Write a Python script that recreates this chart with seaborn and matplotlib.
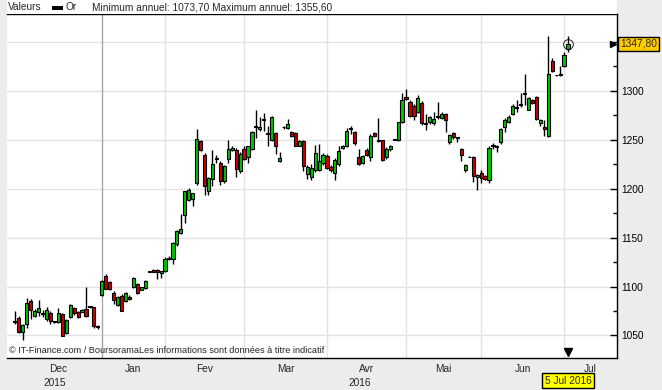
import numpy as np
import pandas as pd
import matplotlib
matplotlib.use("Agg")
import matplotlib.pyplot as plt
from matplotlib.patches import Rectangle
import seaborn as sns

# -------------------------------
# Data
# -------------------------------
months = ["Dec", "Jan", "Fev", "Mar", "Avr", "Mai", "Jun", "Jul"]
sessions = [22, 16, 20, 21, 20, 19, 21, 2]
years = ["2015", "2016"]

opens = [
    # Dec
    1064, 1068, 1053.4, 1062, 1084.7, 1069.7, 1074, 1072, 1067, 1072.8, 1064.5,
    1064, 1072, 1052.4, 1068.7, 1078.2, 1073.8, 1074, 1077.2, 1079, 1079, 1060,
    # Jan
    1091.8, 1111, 1104.4, 1093.5, 1081.6, 1090.8, 1085, 1089.8, 1099.3, 1102.7,
    1096.9, 1098.3, 1115.2, 1117, 1117, 1114,
    # Fev
    1116, 1128.3, 1128.6, 1143.2, 1155, 1173.5, 1188.8, 1189.8, 1206.1, 1248.3,
    1234, 1197.3, 1210.2, 1230.4, 1226.5, 1207.5, 1230.6, 1239.8, 1239.8, 1218,
    # Mar
    1240.8, 1232.3, 1240, 1263, 1260.5, 1270.4, 1256.2, 1250, 1257, 1228.6, 1262.4,
    1262.3, 1257.5, 1256.5, 1244, 1249, 1214.6, 1212, 1219, 1219, 1226,
    # Avr
    1233, 1222, 1215.6, 1225, 1241.6, 1243, 1261.2, 1257.8, 1232, 1226, 1239.9,
    1232.4, 1256.8, 1249.1, 1249.3, 1232.4, 1240.9, 1249.8, 1250, 1267.6,
    # Mai
    1293.2, 1288, 1284, 1278.6, 1287, 1266.2, 1268, 1267, 1273.6, 1272, 1276.5,
    1248, 1257, 1251.5, 1240, 1219.4, 1232.6, 1232.3, 1211.9,
    # Jun
    1216.3, 1212.6, 1208.5, 1243.8, 1242.8, 1247.6, 1263, 1268.4, 1276.5, 1282.8,
    1285.2, 1296.8, 1280.6, 1290.7, 1294, 1267.4, 1263, 1254, 1330.7, 1315.5, 1315.7,
    # Jul
    1325, 1342.7,
]
highs = [
    1074.5, 1069.5, 1062, 1088.4, 1087, 1077, 1086, 1076, 1079, 1075, 1065,
    1078, 1073, 1067, 1082, 1079, 1075, 1077, 1099.3, 1079.5, 1079.5, 1060.5,
    1107, 1113, 1106, 1095, 1090, 1092, 1094, 1091, 1110, 1104,
    1100, 1107, 1116, 1117.5, 1117.5, 1116,
    1130.3, 1131, 1145, 1158, 1174.5, 1198, 1201, 1196, 1261.2, 1250,
    1236, 1212, 1239.8, 1234, 1228, 1224, 1250, 1243, 1241, 1237,
    1243, 1244, 1258.5, 1280, 1273, 1277, 1264, 1274.5, 1258, 1237, 1264,
    1270.7, 1258.5, 1257.5, 1250, 1250, 1224, 1225, 1245, 1246, 1236,
    1235, 1224, 1231, 1244, 1244.5, 1262, 1264, 1258.5, 1240, 1234, 1241,
    1256, 1258, 1272.6, 1250, 1242, 1245, 1250.5, 1268.5, 1297.3,
    1302, 1290, 1286, 1296, 1289, 1276, 1274, 1278, 1288.4, 1278.6, 1277,
    1256, 1258, 1252.5, 1241, 1225, 1233, 1233, 1215,
    1219, 1213.5, 1243, 1246.5, 1245, 1262, 1272, 1275, 1286, 1290,
    1298, 1317, 1294, 1291, 1294.5, 1271, 1270, 1355.6, 1333, 1316, 1324.7,
    1339, 1355.6,
]
lows = [
    1062, 1052.5, 1045, 1058, 1067, 1069, 1070, 1069, 1065, 1062, 1063,
    1063, 1049, 1051.5, 1068, 1071, 1068, 1073.5, 1069, 1078.5, 1058, 1057,
    1090, 1097, 1096, 1082, 1080, 1075, 1084, 1086, 1098.5, 1092,
    1096, 1097, 1114.5, 1114.5, 1107.8, 1108.8,
    1115, 1127.5, 1123.5, 1141, 1154, 1165, 1187, 1182.3, 1204, 1238,
    1193.9, 1193.5, 1202.4, 1226.5, 1203.4, 1206, 1226, 1238, 1211.9, 1216,
    1229, 1226.2, 1239, 1252, 1259, 1259, 1244, 1249, 1235, 1227, 1261,
    1261, 1253, 1243, 1243, 1218, 1210, 1209, 1217, 1218, 1224,
    1220, 1217, 1209, 1223, 1240, 1242, 1256, 1245, 1224, 1225, 1233,
    1228, 1253, 1248, 1228, 1230, 1238, 1249.5, 1249, 1266.5,
    1290, 1273, 1270, 1277, 1265, 1260, 1266, 1265, 1271, 1271, 1257.8,
    1246, 1251, 1248, 1227.9, 1217, 1232, 1207, 1199,
    1206, 1209, 1206, 1240, 1237, 1246, 1258, 1267, 1275, 1278,
    1283, 1285, 1280, 1286, 1270, 1264, 1254, 1253, 1319, 1315.3, 1315,
    1324, 1339.7,
]
closes = [
    1064.5, 1053.4, 1061, 1083.3, 1076, 1075.5, 1078.2, 1072.4, 1076, 1064.6, 1063.6,
    1072.8, 1049.3, 1066.3, 1081.3, 1072.8, 1068.7, 1076.2, 1069.7, 1079.3, 1060, 1058.5,
    1105.4, 1097.6, 1097.6, 1086.4, 1089.1, 1075.5, 1093.2, 1087.4, 1108.8, 1093.5,
    1099.3, 1106.1, 1115.4, 1115, 1115, 1115.6,
    1127.6, 1128.9, 1144, 1156.5, 1158.5, 1197.3, 1199, 1195, 1251, 1239.8,
    1202.7, 1211.2, 1225.5, 1230.8, 1207.5, 1222.8, 1240.8, 1241.8, 1220.4, 1235,
    1230.6, 1243.2, 1257.5, 1263.8, 1263.2, 1270.8, 1255.8, 1273.5, 1243.5, 1231, 1262.8,
    1265.6, 1254, 1244, 1249, 1223.5, 1221.8, 1221, 1236, 1228, 1234.5,
    1221.5, 1218.5, 1229, 1238, 1244, 1258.4, 1260.8, 1246.6, 1225, 1233, 1234.1,
    1254, 1254.1, 1249.5, 1229, 1240.9, 1243.9, 1250.2, 1267.6, 1290.5,
    1291.2, 1274, 1274, 1293, 1267, 1265.8, 1273, 1271.4, 1274, 1276.5, 1270.4,
    1255, 1252.7, 1251.9, 1234.7, 1223.8, 1232, 1212.6, 1214.3,
    1211.2, 1210, 1241, 1244.2, 1243.2, 1260.5, 1270.4, 1273.5, 1284.7, 1283.2,
    1285.6, 1297.2, 1293, 1287.3, 1271.4, 1270, 1261.2, 1317.4, 1320, 1315.9, 1317,
    1336.7, 1347.8,
]

last_label = "1347,80"
last_date = "5 Jul 2016"
header = "Minimum annuel: 1073,70 Maximum annuel: 1355,60"
footer = "© IT-Finance.com / BoursoramaLes informations sont données à titre indicatif"

# -------------------------------
# Frame
# -------------------------------
df = pd.DataFrame({"open": opens, "high": highs, "low": lows, "close": closes})
df["x"] = np.arange(len(df))
df["up"] = df["close"] >= df["open"]
df["bottom"] = df[["open", "close"]].min(axis=1)
df["body"] = (df["close"] - df["open"]).abs().clip(lower=0.7)

month_start = np.concatenate([[0], np.cumsum(sessions)[:-1]])

# -------------------------------
# Style
# -------------------------------
sns.set_theme(style="white")
plt.rcParams["font.family"] = ["Liberation Sans", "DejaVu Sans"]
W, H = 662, 390
FS = 7.3

fig = plt.figure(figsize=(W / 100, H / 100), dpi=100)
fig.patch.set_facecolor("#ececec")
ax = fig.add_axes([7 / W, (H - 358) / H, 610 / W, 344 / H])
ax.set_facecolor("white")

xmin, xmax = -2.0, 152.4
ax.set_xlim(xmin, xmax)
ax.set_ylim(1027, 1378.3)

# grid
for v in range(1050, 1351, 50):
    ax.axhline(v, color="#e2e2e2", lw=1, zorder=0)
for i, s in enumerate(month_start[1:], start=1):
    col = "#a8a8a8" if months[i] == "Jan" else "#e2e2e2"
    ax.axvline(s, color=col, lw=1, zorder=0)

# candles
ax.vlines(df["x"], df["low"], df["high"], color="black", lw=1, zorder=2)
colors = np.where(df["up"], "#00c400", "#cc0000")
ax.bar(df["x"], df["body"], bottom=df["bottom"], width=0.8, color=colors,
       edgecolor="black", linewidth=0.8, zorder=3)

# last price markers
last = df.iloc[-1]
ax.plot(last["x"], last["close"], marker="o", ms=7, mfc="none", mec="black",
        mew=0.6, zorder=4)
ax.plot(0.9935, last["close"], marker=">", ms=5, color="black",
        transform=ax.get_yaxis_transform(), clip_on=False, zorder=4)
ax.plot(last["x"], 0.018, marker="v", ms=6, color="black",
        transform=ax.get_xaxis_transform(), clip_on=False, zorder=4)

# -------------------------------
# Axes, ticks, labels
# -------------------------------
sns.despine(ax=ax, left=True, top=False, right=False, bottom=False)
for side in ["top", "right", "bottom"]:
    ax.spines[side].set_color("black")
    ax.spines[side].set_linewidth(1)

ax.yaxis.tick_right()
ax.set_yticks(range(1050, 1351, 50))
ax.set_yticklabels([str(v) if v < 1350 else "" for v in range(1050, 1351, 50)])
ax.set_yticks(range(1075, 1351, 50), minor=True)
ax.tick_params(axis="y", which="major", direction="in", length=5, width=1,
               color="black", pad=3, labelsize=FS, labelcolor="black")
ax.tick_params(axis="y", which="minor", direction="in", length=3, width=1,
               color="black")

ax.set_xticks(month_start[1:])
ax.set_xticklabels([])
ax.tick_params(axis="x", direction="out", length=3, width=1, color="black")

trans = ax.get_xaxis_transform()
edges = list(month_start) + [xmax]
for i, m in enumerate(months):
    lo, hi = max(edges[i], xmin), min(edges[i + 1], xmax)
    ax.text((lo + hi) / 2, -0.032, m, transform=trans, ha="center", va="center",
            fontsize=FS, clip_on=False)
ax.text((xmin + month_start[1]) / 2, -0.073, years[0], transform=trans,
        ha="center", va="center", fontsize=FS, clip_on=False)
ax.text((month_start[1] + xmax) / 2, -0.073, years[1], transform=trans,
        ha="center", va="center", fontsize=FS, clip_on=False)

ax.text(last["x"], -0.066, last_date, transform=trans, ha="center", va="center",
        fontsize=FS, clip_on=False, zorder=5,
        bbox=dict(boxstyle="square,pad=0.25", fc="#ffff00", ec="black", lw=1))
ax.text(1.0049, last["close"], last_label, transform=ax.get_yaxis_transform(),
        ha="left", va="center", fontsize=FS, clip_on=False, zorder=5,
        bbox=dict(boxstyle="square,pad=0.2", fc="#ffcc00", ec="black", lw=1))

ax.text(0.003, 0.022, footer, transform=ax.transAxes, ha="left", va="center",
        fontsize=6.6)

# header band
fig.patches.append(Rectangle((7 / W, (H - 14) / H), 610 / W, 14 / H,
                             transform=fig.transFigure, fc="white", ec="none"))
hy = 1 - 7.5 / H
fig.text(8 / W, hy, "Valeurs", fontsize=FS, va="center", ha="left")
fig.patches.append(Rectangle((52 / W, 1 - 9.5 / H), 11 / W, 4 / H,
                             transform=fig.transFigure, fc="black", ec="none"))
fig.text(66 / W, hy, "Or", fontsize=FS, va="center", ha="left")
fig.text(92 / W, hy, header, fontsize=FS, va="center", ha="left")

fig.savefig("out.png", dpi=100, facecolor=fig.get_facecolor())
plt.close(fig)
